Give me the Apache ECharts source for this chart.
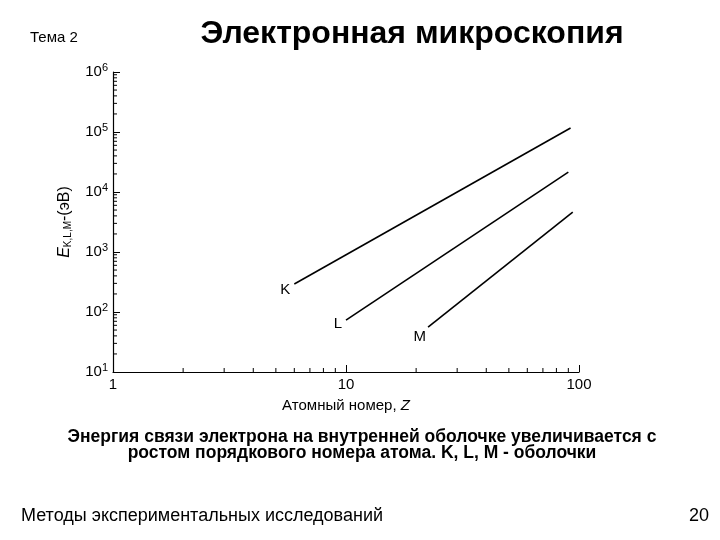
<!DOCTYPE html>
<html>
<head>
<meta charset="utf-8">
<script src="https://cdn.jsdelivr.net/npm/echarts@6/dist/echarts.min.js"></script>
<style>
html,body{margin:0;padding:0;background:#fff;}
#main{width:720px;height:540px;}
</style>
</head>
<body>
<div id="main"></div>
<script>
// атомный номер Z и энергия связи (эВ) для оболочек K, L, M
var kZ = [6, 92];
var kE = [293, 116600];
var lZ = [10, 90];
var lE = [73, 21500];
var mZ = [22.5, 94];
var mE = [56, 4640];
var shellNames = ['K', 'L', 'M'];

var xMinorTicks = [2, 3, 4, 5, 6, 7, 8, 9, 20, 30, 40, 50, 60, 70, 80, 90];
var yMinorTicks = [20, 30, 40, 50, 60, 70, 80, 90,
	200, 300, 400, 500, 600, 700, 800, 900,
	2000, 3000, 4000, 5000, 6000, 7000, 8000, 9000,
	20000, 30000, 40000, 50000, 60000, 70000, 80000, 90000,
	200000, 300000, 400000, 500000, 600000, 700000, 800000, 900000];

var font = 'Liberation Sans, Arial, sans-serif';

function pairs(xs, ys){
	var out = [];
	for(var i = 0; i < xs.length; i++){
		out.push([xs[i], ys[i]]);
	}
	return out;
}

function shellSeries(name, xs, ys, offset){
	var data = pairs(xs, ys);
	data[0] = {
		value: data[0],
		label: {
			show: true,
			formatter: name,
			position: 'left',
			distance: 4,
			offset: offset,
			fontFamily: font,
			fontSize: 15,
			color: '#000'
		}
	};
	return {
		name: name,
		type: 'line',
		symbol: 'circle',
		symbolSize: 0,
		showSymbol: true,
		lineStyle: {color: '#000', width: 1.6},
		data: data,
		z: 3
	};
}

var chart = echarts.init(document.getElementById('main'));

var option = {
	backgroundColor: '#fff',
	animation: false,
	title: [
		{text: 'Тема 2', left: 25, top: 25,
			textStyle: {fontFamily: font, fontSize: 15, fontWeight: 'normal', color: '#000'}},
		{text: 'Электронная микроскопия', left: 407, top: 13, textAlign: 'center',
			textStyle: {fontFamily: font, fontSize: 32, fontWeight: 'bold', color: '#000'}},
		{text: 'Энергия связи электрона на внутренней оболочке увеличивается с\nростом порядкового номера атома. K, L, M - оболочки',
			left: 357, top: 424, textAlign: 'center',
			textStyle: {fontFamily: font, fontSize: 17.5, fontWeight: 'bold', color: '#000', lineHeight: 16}},
		{text: 'Методы экспериментальных исследований', left: 16, top: 502,
			textStyle: {fontFamily: font, fontSize: 18, fontWeight: 'normal', color: '#000'}},
		{text: '20', left: 684, top: 502,
			textStyle: {fontFamily: font, fontSize: 18, fontWeight: 'normal', color: '#000'}}
	],
	grid: {
		left: 113,
		right: 141,
		top: 72,
		bottom: 168
	},
	xAxis: {
		type: 'log',
		logBase: 10,
		min: 1,
		max: 100,
		name: '{n|Атомный номер, }{i|Z}',
		nameLocation: 'middle',
		nameGap: 26,
		nameTextStyle: {
			rich: {
				n: {fontFamily: font, fontSize: 15, color: '#000'},
				i: {fontFamily: font, fontSize: 15, fontStyle: 'italic', color: '#000'}
			}
		},
		axisLine: {lineStyle: {color: '#000', width: 1.2}},
		axisTick: {inside: true, length: 7, lineStyle: {color: '#000'}},
		axisLabel: {fontFamily: font, fontSize: 15, color: '#000', margin: 5},
		splitLine: {show: false}
	},
	yAxis: {
		type: 'log',
		logBase: 10,
		min: 10,
		max: 1000000,
		name: '{e|E}{s|K,L,M}{n|-(эВ)}',
		nameLocation: 'middle',
		nameGap: 40,
		nameTextStyle: {
			rich: {
				e: {fontFamily: font, fontSize: 16, fontStyle: 'italic', color: '#000'},
				s: {fontFamily: font, fontSize: 10, color: '#000', padding: [7, 0, 0, 0]},
				n: {fontFamily: font, fontSize: 16, color: '#000'}
			}
		},
		axisLine: {show: true, lineStyle: {color: '#000', width: 1.2}},
		axisTick: {show: true, inside: true, length: 7, lineStyle: {color: '#000'}},
		axisLabel: {
			margin: 5,
			formatter: function(v){
				return '{b|10}{p|' + Math.round(Math.log(v) / Math.LN10) + '}';
			},
			rich: {
				b: {fontFamily: font, fontSize: 15, color: '#000'},
				p: {fontFamily: font, fontSize: 11, color: '#000', padding: [0, 0, 9, 0]}
			}
		},
		splitLine: {show: false}
	},
	series: [
		shellSeries(shellNames[0], kZ, kE, [0, 6]),
		shellSeries(shellNames[1], lZ, lE, [0, 4]),
		shellSeries(shellNames[2], mZ, mE, [2, 10]),
		{
			type: 'custom',
			silent: true,
			data: xMinorTicks.map(function(v){ return [v, 10]; }),
			renderItem: function(params, api){
				var p = api.coord([api.value(0), api.value(1)]);
				return {type: 'line', shape: {x1: p[0], y1: p[1], x2: p[0], y2: p[1] - 4},
					style: {stroke: '#000', lineWidth: 1}};
			}
		},
		{
			type: 'custom',
			silent: true,
			data: yMinorTicks.map(function(v){ return [1, v]; }),
			renderItem: function(params, api){
				var p = api.coord([api.value(0), api.value(1)]);
				return {type: 'line', shape: {x1: p[0], y1: p[1], x2: p[0] + 4, y2: p[1]},
					style: {stroke: '#000', lineWidth: 1}};
			}
		}
	]
};
chart.setOption(option);
</script>
</body>
</html>
